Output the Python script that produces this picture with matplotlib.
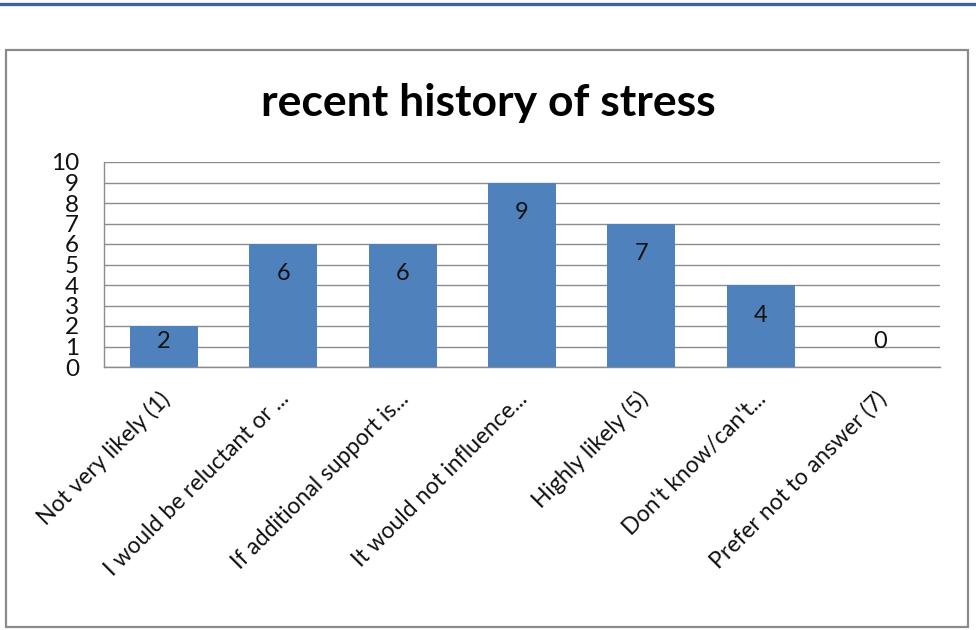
import matplotlib.pyplot as plt
import matplotlib.transforms as mtransforms
from matplotlib.patches import Rectangle
from matplotlib.lines import Line2D

categories = [
    "Not very likely (1)",
    "I would be reluctant or ...",
    "If additional support is...",
    "It would not influence...",
    "Highly likely (5)",
    "Don't know/can't...",
    "Prefer not to answer (7)",
]
counts = [2, 6, 6, 9, 7, 4, 0]
y_ticks = list(range(0, 11))
title = "recent history of stress"

plt.rcParams["font.family"] = ["Lato", "DejaVu Sans"]

W, H, DPI = 976, 630, 100
fig = plt.figure(figsize=(W / DPI, H / DPI), dpi=DPI)

# outer chart frame and the blue rule on top
fig.add_artist(Line2D([0, 1], [1 - 3.5 / H, 1 - 3.5 / H], color="#3c639e", lw=2.4,
                      transform=fig.transFigure))
fig.add_artist(Rectangle((6 / W, 1 - 627 / H), 962 / W, 577 / H, transform=fig.transFigure,
                         fill=False, edgecolor="#8a8a8a", lw=1.6))

left, right, top, bottom = 104, 940, 162, 367
ax = fig.add_axes([left / W, 1 - bottom / H, (right - left) / W, (bottom - top) / H])

x = list(range(len(categories)))
ax.bar(x, counts, width=0.57, color="#4f81bd", zorder=3)
ax.set_xlim(-0.5, len(categories) - 0.5)
ax.set_ylim(0, 10)
ax.set_yticks(y_ticks)
ax.set_yticklabels([str(t) for t in y_ticks])
ax.grid(axis="y", color="#8c8c8c", lw=1.0, zorder=0)
ax.set_axisbelow(True)

for s in ["top", "right"]:
    ax.spines[s].set_visible(False)
for s in ["left", "bottom"]:
    ax.spines[s].set_color("#8c8c8c")
    ax.spines[s].set_linewidth(1.0)

ax.tick_params(axis="y", length=0, pad=18, labelsize=17.5, labelcolor="#111111")
ax.tick_params(axis="x", length=0, pad=15, labelsize=16.5, labelcolor="#111111")
ax.set_xticks(x)
ax.set_xticklabels(categories, rotation=45, ha="right", va="top", rotation_mode="anchor")
shift = mtransforms.ScaledTranslation(-5 / DPI, 0, fig.dpi_scale_trans)
for lab in ax.get_xticklabels():
    lab.set_transform(lab.get_transform() + shift)

# data labels: inside end, but never closer to the baseline than a fixed gap
unit_px = (bottom - top) / 10
for i, v in enumerate(counts):
    if v * unit_px - 30 >= 26:
        ax.annotate(str(v), (i, v), xytext=(0, -30 * 72 / DPI), textcoords="offset points",
                    ha="center", va="center", fontsize=17, color="#111111", zorder=4)
    else:
        ax.annotate(str(v), (i, 0), xytext=(0, 26 * 72 / DPI), textcoords="offset points",
                    ha="center", va="center", fontsize=17, color="#111111", zorder=4)

fig.text(488 / W, 1 - 116 / H, title, ha="center", va="baseline",
         fontsize=32, fontweight="bold", color="#000000")

fig.savefig("out.png", dpi=DPI)
